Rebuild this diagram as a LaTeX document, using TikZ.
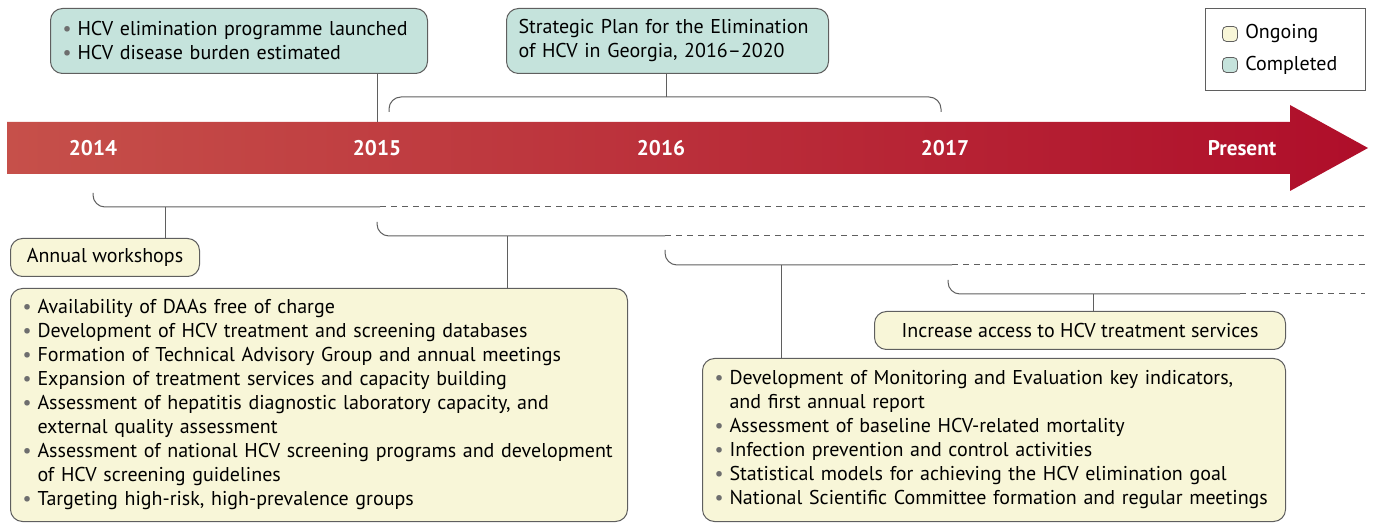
\documentclass[tikz,border=0pt]{standalone}
\usepackage{fontspec}
\setmainfont{PT Sans}
\usepackage{tikz}
\usetikzlibrary{positioning,calc}

\definecolor{barleft}{RGB}{198,80,74}
\definecolor{barright}{RGB}{175,14,42}
\definecolor{donefill}{RGB}{197,227,220}
\definecolor{ongofill}{RGB}{248,246,216}
\definecolor{linegray}{RGB}{95,95,95}
\definecolor{dotgray}{RGB}{110,110,110}

\newcommand{\bul}{\makebox[0.75em][l]{\textcolor{dotgray}{\textbullet}}}
\newcommand{\ind}{\hspace*{0.75em}}

\begin{document}
\begin{tikzpicture}[
    x=0.5pt, y=-0.5pt,
    every node/.style={font=\fontsize{10}{12}\selectfont},
    phase/.style={draw=linegray, rounded corners=6pt, line width=0.5pt, inner xsep=6pt, inner ysep=3pt, anchor=north west, align=left},
    done/.style={phase, fill=donefill},
    ongo/.style={phase, fill=ongofill},
    year/.style={text=white, font=\fontsize{10.6}{12}\selectfont\bfseries},
    keybox/.style={draw=linegray, rounded corners=2pt, minimum size=7.5pt, inner sep=0pt},
    link/.style={draw=linegray, line width=0.5pt},
    future/.style={link, dashed, dash pattern=on 3pt off 2.5pt},
    brack/.style={link, rounded corners=6pt}
]
\useasboundingbox (0,0) rectangle (1375,523);

% timeline arrow
\shade[left color=barleft, right color=barright]
    (7,122) -- (1290,122) -- (1290,105) -- (1368,148) -- (1290,191) -- (1290,174) -- (7,174) -- cycle;
\node[year] (y14) at (93,148) {2014};
\node[year] (y15) at (377,148) {2015};
\node[year] (y16) at (661,148) {2016};
\node[year] (y17) at (945,148) {2017};
\node[year] (ynow) at (1242,148) {Present};

% completed
\node[done, minimum width=188.5pt, minimum height=32.5pt, text width=176.5pt] (launch) at (50,8)
    {\bul HCV elimination programme launched\\ \bul HCV disease burden estimated};
\node[done, minimum width=161pt, minimum height=32.5pt, text width=149pt] (plan) at (506,8)
    {Strategic Plan for the Elimination\\ of HCV in Georgia, 2016--2020};
\coordinate (launchbar) at (377,122);
\draw[link] (launch.south -| launchbar) -- (launchbar);

% plan bracket
\coordinate (pl) at (389,112);
\coordinate (pr) at (941,112);
\coordinate (ptop) at (666,97);
\draw[brack] (pl) |- (ptop) -| (pr);
\draw[link] (plan.south -| ptop) -- (ptop);

% legend
\node[draw=linegray, line width=0.5pt, minimum width=80pt, minimum height=41pt, anchor=north west] (key) at (1205,8) {};
\node[keybox, fill=ongofill] (keyon) at (1230,34) {};
\node[keybox, fill=donefill] (keydone) at (1230,65) {};
\node[right=2.5pt of keyon, inner sep=1pt] (keyontext) {Ongoing};
\node[right=2.5pt of keydone, inner sep=1pt] (keydonetext) {Completed};

% ongoing brackets
\coordinate (a0) at (93,193);   \coordinate (a1) at (380,207);
\coordinate (b0) at (377,222);  \coordinate (b1) at (665,236);
\coordinate (c0) at (665,250);  \coordinate (c1) at (952,265);
\coordinate (d0) at (948,280);  \coordinate (d1) at (1240,294);
\draw[brack] (a0) |- (a1);
\draw[future] (a1) -- (1365,207);
\draw[brack] (b0) |- (b1);
\draw[future] (b1) -- (1365,236);
\draw[brack] (c0) |- (c1);
\draw[future] (c1) -- (1365,265);
\draw[brack] (d0) |- (d1);
\draw[future] (d1) -- (1365,294);

% ongoing
\node[ongo, minimum width=94.5pt, minimum height=19pt, align=center] (work) at (10,238) {Annual workshops};
\node[ongo, minimum width=308.5pt, minimum height=116.5pt, text width=296.5pt] (y15box) at (10,288)
    {\bul Availability of DAAs free of charge\\
     \bul Development of HCV treatment and screening databases\\
     \bul Formation of Technical Advisory Group and annual meetings\\
     \bul Expansion of treatment services and capacity building\\
     \bul Assessment of hepatitis diagnostic laboratory capacity, and\\
     \ind external quality assessment\\
     \bul Assessment of national HCV screening programs and development\\
     \ind of HCV screening guidelines\\
     \bul Targeting high-risk, high-prevalence groups};
\node[ongo, minimum width=205.5pt, minimum height=19pt, align=center] (access) at (874,311) {Increase access to HCV treatment services};
\node[ongo, minimum width=291.5pt, minimum height=81.5pt, text width=279.5pt] (y16box) at (702,358)
    {\bul Development of Monitoring and Evaluation key indicators,\\
     \ind and first annual report\\
     \bul Assessment of baseline HCV-related mortality\\
     \bul Infection prevention and control activities\\
     \bul Statistical models for achieving the HCV elimination goal\\
     \bul National Scientific Committee formation and regular meetings};

\coordinate (astem) at (165,207);
\coordinate (bstem) at (507,236);
\coordinate (cstem) at (781,265);
\coordinate (dstem) at (1093,294);
\draw[link] (astem) -- (astem |- work.north);
\draw[link] (bstem) -- (bstem |- y15box.north);
\draw[link] (cstem) -- (cstem |- y16box.north);
\draw[link] (dstem) -- (dstem |- access.north);
\end{tikzpicture}
\end{document}
